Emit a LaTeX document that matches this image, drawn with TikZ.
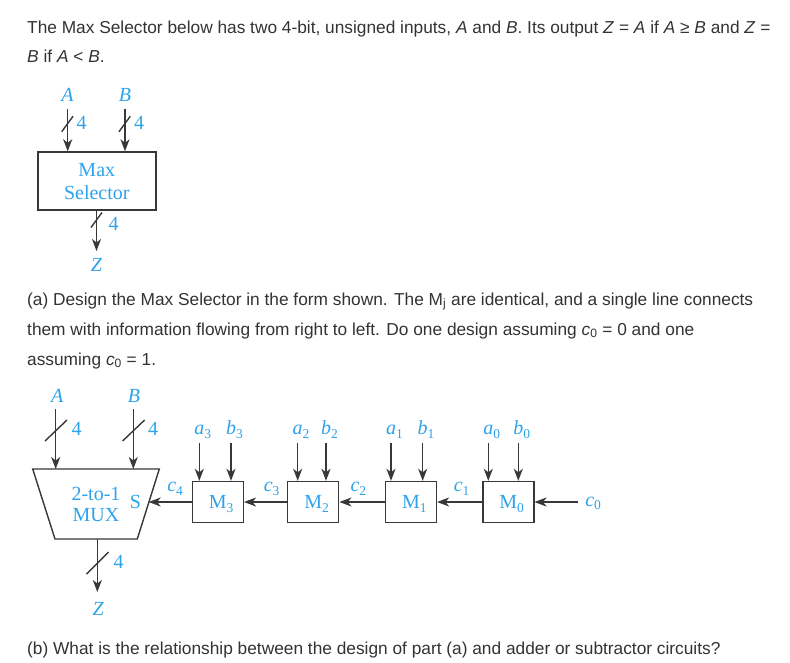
\documentclass[tikz,border=0pt]{standalone}
\usepackage{fontspec}
\setmainfont{Liberation Sans}
\newfontfamily\diag{Liberation Serif}
\usetikzlibrary{arrows.meta}
\definecolor{ink}{HTML}{333333}
\definecolor{lblue}{HTML}{2EA3EC}
\definecolor{wire}{HTML}{383838}
\newcommand\lsub[2]{\textit{#1}\rlap{\raisebox{-0.4ex}{\fontsize{13.5}{13.5}\selectfont #2}}}
\tikzset{
  para/.style={anchor=base west, inner sep=0pt, text=ink, font=\fontsize{17.3}{20}\selectfont},
  lab/.style={text=lblue, font=\diag\fontsize{20}{23}\selectfont, inner sep=0pt},
  wirea/.style={draw=wire, line width=1.4pt, -{Stealth[length=12pt,width=9pt,inset=3.5pt]}},
  wirel/.style={draw=wire, line width=1.4pt},
  mbox/.style={draw=wire, line width=1.4pt, fill=white, minimum width=51pt, minimum height=41pt, inner sep=0pt},
}
\begin{document}
\begin{tikzpicture}[x=1pt,y=-1pt]
\useasboundingbox (0,0) rectangle (790,662);
\fill[white] (0,0) rectangle (790,662);
% ---------- text ----------
\node[para] (t1) at (27,33) {The Max Selector below has two 4-bit, unsigned inputs, \textit{A} and \textit{B}. Its output \textit{Z} = \textit{A} if \textit{A} ≥ \textit{B} and \textit{Z} =};
\node[para] (t2) at (27,62) {\textit{B} if \textit{A} < \textit{B}.};
\node[para] (t3) at (27,305) {(a) Design the Max Selector in the form shown. The M\textsubscript{j} are identical, and a single line connects};
\node[para] (t4) at (27,335) {them with information flowing from right to left. Do one design assuming \textit{c}\textsubscript{0} = 0 and one};
\node[para] (t5) at (27,365) {assuming \textit{c}\textsubscript{0} = 1.};
\node[para] (t6) at (27,654) {(b) What is the relationship between the design of part (a) and adder or subtractor circuits?};
% ---------- diagram 1 ----------
\node[draw=wire, line width=1.4pt, minimum width=118pt, minimum height=58pt, inner sep=0pt] (ms) at (96.8,181) {};
\node[lab] (msl1) at (96.8,170) {Max};
\node[lab] (msl2) at (96.8,193) {Selector};
\node[lab, anchor=base] (A1) at (67.5,101) {\textit{A}};
\node[lab, anchor=base] (B1) at (125,101) {\textit{B}};
\node[lab, anchor=base] (Z1) at (96.5,271) {\textit{Z}};
\coordinate (A1s) at (67.7,109);
\coordinate (B1s) at (125,109);
\coordinate (Z1e) at (96.5,251);
\draw[wirea] (A1s) -- (A1s |- ms.north);
\draw[wirea] (B1s) -- (B1s |- ms.north);
\draw[wirea] (Z1e |- ms.south) -- (Z1e);
\draw[wirel] (61.7,131.7) -- (73,116.3);
\draw[wirel] (119,131.7) -- (130.3,116.3);
\draw[wirel] (91,227.5) -- (102,212.5);
\node[lab] (n1) at (81.5,123) {4};
\node[lab] (n2) at (139,123) {4};
\node[lab] (n3) at (113.5,224) {4};
% ---------- diagram 2 ----------
\coordinate (tl) at (32.7,469);
\coordinate (tr) at (159.3,469);
\coordinate (br) at (137.3,539);
\coordinate (bl) at (55,539);
\draw[wirel, line join=miter] (tl) -- (tr) -- (br) -- (bl) -- cycle;
\coordinate (muxA) at (55.7,469);
\coordinate (muxB) at (133.3,469);
\coordinate (muxS) at (148.7,502.5);
\coordinate (muxZ) at (97.3,539);
\node[lab] (mux1) at (96,493.5) {2-to-1};
\node[lab] (mux2) at (96,515.5) {MUX};
\node[lab] (S) at (135.5,502) {S};
\node[lab, anchor=base] (A2) at (57.3,402.7) {\textit{A}};
\node[lab, anchor=base] (B2) at (134,402.7) {\textit{B}};
\node[lab, anchor=base] (Z2) at (98.3,615) {\textit{Z}};
\coordinate (A2s) at (55.7,409);
\coordinate (B2s) at (133.3,409);
\coordinate (Z2e) at (97.3,592);
\draw[wirea] (A2s) -- (muxA);
\draw[wirea] (B2s) -- (muxB);
\draw[wirea] (muxZ) -- (Z2e);
\draw[wirel] (45,441) -- (67,420);
\draw[wirel] (122.6,441) -- (144.6,420);
\draw[wirel] (86.5,574) -- (108.5,552);
\node[lab] (n4) at (76.5,428.5) {4};
\node[lab] (n5) at (153,428.5) {4};
\node[lab] (n6) at (118.5,562) {4};
% M blocks
\node[mbox] (M3) at (217.8,502) {};
\node[mbox] (M2) at (313.2,502) {};
\node[mbox] (M1) at (410.9,502) {};
\node[mbox] (M0) at (508.3,502) {};
\node[lab, anchor=base] (M3l) at ([yshift=-6.5pt]M3.center) {M\rlap{\raisebox{-0.4ex}{\fontsize{13.5}{13.5}\selectfont 3}}};
\node[lab, anchor=base] (M2l) at ([yshift=-6.5pt]M2.center) {M\rlap{\raisebox{-0.4ex}{\fontsize{13.5}{13.5}\selectfont 2}}};
\node[lab, anchor=base] (M1l) at ([yshift=-6.5pt]M1.center) {M\rlap{\raisebox{-0.4ex}{\fontsize{13.5}{13.5}\selectfont 1}}};
\node[lab, anchor=base] (M0l) at ([yshift=-6.5pt]M0.center) {M\rlap{\raisebox{-0.4ex}{\fontsize{13.5}{13.5}\selectfont 0}}};
% bit inputs
\foreach \nm/\lx/\lt/\sb in {a3/199.3/a/3, b3/231/b/3, a2/297.7/a/2, b2/326/b/2, a1/391/a/1, b1/422.7/b/1, a0/488.3/a/0, b0/518.3/b/0}{
  \node[lab, anchor=base] (\nm) at (\lx,434.5) {\lsub{\lt}{\sb}};
  \coordinate (\nm s) at (\lx,443);
}
\draw[wirea] (a3s) -- (a3s |- M3.north);
\draw[wirea] (b3s) -- (b3s |- M3.north);
\draw[wirea] (a2s) -- (a2s |- M2.north);
\draw[wirea] (b2s) -- (b2s |- M2.north);
\draw[wirea] (a1s) -- (a1s |- M1.north);
\draw[wirea] (b1s) -- (b1s |- M1.north);
\draw[wirea] (a0s) -- (a0s |- M0.north);
\draw[wirea] (b0s) -- (b0s |- M0.north);
% carry chain
\coordinate (c0s) at (578,502);
\draw[wirea] (c0s) -- (M0.east);
\draw[wirea] (M0.west) -- (M1.east);
\draw[wirea] (M1.west) -- (M2.east);
\draw[wirea] (M2.west) -- (M3.east);
\draw[wirea] (M3.west) -- (muxS |- M3.west);
\node[lab, anchor=base] (c4) at (171.7,491.7) {\lsub{c}{4}};
\node[lab, anchor=base] (c3) at (268.3,491.7) {\lsub{c}{3}};
\node[lab, anchor=base] (c2) at (355,491.7) {\lsub{c}{2}};
\node[lab, anchor=base] (c1) at (458.3,491.7) {\lsub{c}{1}};
\node[lab, anchor=base] (c0) at (589.7,506) {\lsub{c}{0}};
\end{tikzpicture}
\end{document}
